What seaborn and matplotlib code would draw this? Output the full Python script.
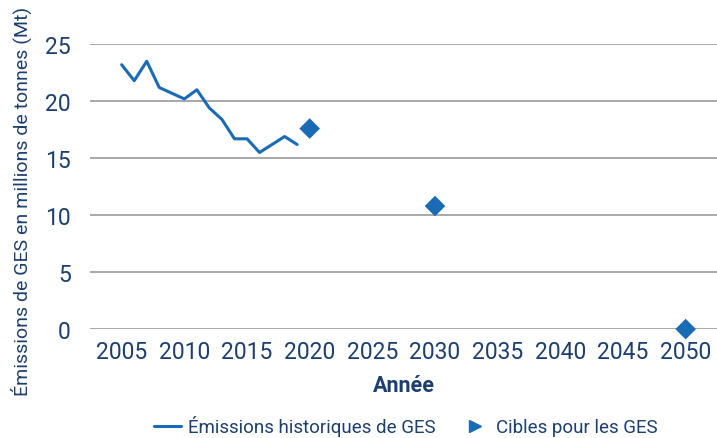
import matplotlib
matplotlib.use("Agg")
import matplotlib.pyplot as plt
from matplotlib.lines import Line2D
import seaborn as sns
import pandas as pd

# historical emissions (Mt)
hist_years = [2005, 2006, 2007, 2008, 2009, 2010, 2011, 2012, 2013, 2014, 2015, 2016, 2017, 2018, 2019]
hist_values = [23.2, 21.8, 23.5, 21.2, 20.7, 20.2, 21.0, 19.4, 18.4, 16.7, 16.7, 15.5, 16.2, 16.9, 16.2]

# targets
target_years = [2020, 2030, 2050]
target_values = [17.6, 10.8, 0.0]

x_ticks = list(range(2005, 2051, 5))
y_ticks = [0, 5, 10, 15, 20, 25]

blue = "#1a6bb5"
navy = "#1d3f6e"
grid = "#9a9a9a"

sns.set_style("white")
plt.rcParams["font.family"] = ["Roboto", "DejaVu Sans"]

hist = pd.DataFrame({"year": hist_years, "value": hist_values})
targets = pd.DataFrame({"year": target_years, "value": target_values})

fig, ax = plt.subplots(figsize=(7.17, 4.39), dpi=100)
fig.subplots_adjust(left=0.126, right=1.0, top=0.897, bottom=0.248)

sns.lineplot(data=hist, x="year", y="value", ax=ax, color=blue, linewidth=2.2)
sns.scatterplot(data=targets, x="year", y="value", ax=ax, color=blue, marker="D",
                s=110, edgecolor="none", zorder=5, clip_on=False)

ax.set_xlim(2002.5, 2052.5)
ax.set_ylim(0, 25)
ax.set_xticks(x_ticks)
ax.set_yticks(y_ticks)
ax.grid(axis="y", color=grid, linewidth=1.2)
ax.set_axisbelow(True)
for s in ax.spines.values():
    s.set_visible(False)
ax.tick_params(axis="x", length=0, labelsize=16.5, labelcolor=navy, pad=8)
ax.tick_params(axis="y", length=0, labelsize=16.5, labelcolor=navy, pad=14)

ax.set_xlabel("Année", fontsize=15.5, color=navy, fontweight="bold", labelpad=8)
ax.set_ylabel("Émissions de GES en millions de tonnes (Mt)", fontsize=14, color=navy)
ax.yaxis.set_label_coords(-0.093, 0.45)

handles = [
    Line2D([0], [0], color=blue, linewidth=2.2),
    Line2D([0], [0], color=blue, marker=">", linestyle="none", markersize=9),
]
leg = fig.legend(handles, ["Émissions historiques de GES", "Cibles pour les GES"],
                 loc="lower center", bbox_to_anchor=(0.566, -0.035), ncol=2, frameon=False,
                 fontsize=13.5, handlelength=1.4, handletextpad=0.4, columnspacing=1.4)
for t in leg.get_texts():
    t.set_color(navy)

fig.savefig("out.png", dpi=100)
